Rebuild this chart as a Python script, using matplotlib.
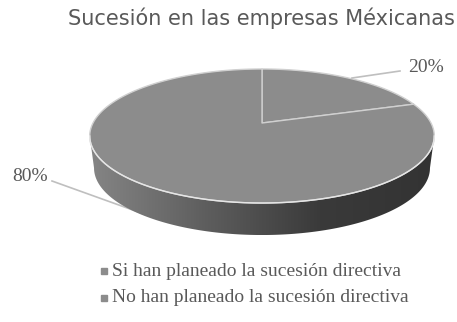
import numpy as np
import matplotlib.pyplot as plt
from matplotlib.patches import Polygon
from matplotlib.colors import LinearSegmentedColormap

# data
title = "Sucesión en las empresas Méxicanas"
labels = ["Si han planeado la sucesión directiva",
          "No han planeado la sucesión directiva"]
values = [20, 80]
pct_labels = ["20%", "80%"]

# geometry of the fake 3D pie (pixel coords)
cx, cy = 262, 123
A, B, k = 169, 64.5, 0.194
depth = 32
top_col = "#8c8c8c"
txt_col = "#595959"


def proj(t):
    u, v = np.cos(t), np.sin(t)
    x = cx + A * u / (1 + k * v)
    y = cy - B * v / (1 + k * v)
    return x, y


fig = plt.figure(figsize=(4.57, 3.22), dpi=100)
ax = fig.add_axes([0, 0, 1, 1])
ax.set_xlim(0, 457)
ax.set_ylim(322, 0)
ax.axis('off')

# visible front side, from right silhouette down to left silhouette
t0 = np.arcsin(-k)
ts = np.linspace(t0, -np.pi - t0, 300)
xt, yt = proj(ts)
xb = cx + (xt - cx) * 0.975
yb = yt + depth
side = np.vstack([np.column_stack([xt, yt]), np.column_stack([xb, yb])[::-1]])
side_poly = Polygon(side, closed=True, facecolor='none', edgecolor='none')
ax.add_patch(side_poly)
cmap = LinearSegmentedColormap.from_list("g", ["#858585", "#5e5e5e", "#3a3a3a", "#333333"])
grad = np.linspace(0, 1, 256).reshape(1, -1)
xmin, xmax = side[:, 0].min(), side[:, 0].max()
im = ax.imshow(grad, extent=[xmin, xmax, side[:, 1].max(), side[:, 1].min()],
               cmap=cmap, aspect='auto', zorder=1)
im.set_clip_path(side_poly)
ax.set_xlim(0, 457)
ax.set_ylim(322, 0)

# top face slices, clockwise from 12 o'clock
start = np.pi / 2
total = sum(values)
for val in values:
    sweep = 2 * np.pi * val / total
    tt = np.linspace(start, start - sweep, 200)
    px, py = proj(tt)
    pts = np.vstack([[cx, cy], np.column_stack([px, py])])
    ax.add_patch(Polygon(pts, closed=True, facecolor=top_col, edgecolor='#d0d0d0',
                         lw=1.0, zorder=2, joinstyle='round'))
    start -= sweep

# light rim between top and side
ax.plot(xt, yt, color='#e6e6e6', lw=1.0, zorder=3)

# data labels with leader lines
ax.plot([352, 400], [78, 71], color='#bfbfbf', lw=1.2, zorder=4)
ax.text(426, 67, pct_labels[0], fontsize=14, family='Liberation Serif',
        color=txt_col, ha='center', va='center')
ax.plot([52, 155], [181, 218], color='#bfbfbf', lw=1.2, zorder=0.5)
ax.text(30, 176, pct_labels[1], fontsize=14, family='Liberation Serif',
        color=txt_col, ha='center', va='center')

ax.text(261, 18, title, fontsize=15, family='DejaVu Sans', color=txt_col,
        ha='center', va='center')

# legend
for i, lab in enumerate(labels):
    y = 271 + i * 27
    ax.plot([104], [y], marker='s', ms=4, color=top_col, ls='none')
    ax.text(112, y, lab, fontsize=14, family='Liberation Serif', color=txt_col,
            ha='left', va='center')

fig.savefig("out.png", dpi=100)
